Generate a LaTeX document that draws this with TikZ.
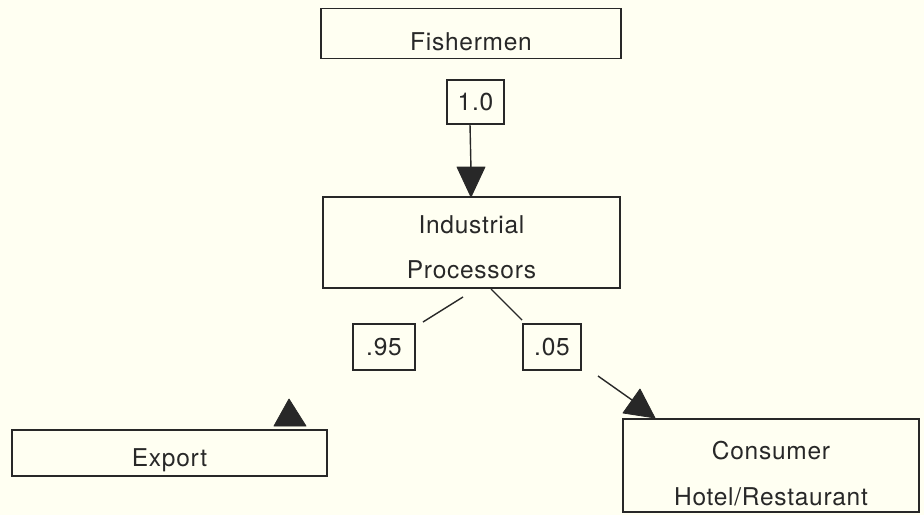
\documentclass[tikz,border=0pt]{standalone}
\usepackage{fontspec}
\setmainfont{TeX Gyre Heros}[LetterSpace=3]
\usetikzlibrary{arrows.meta}
\definecolor{paper}{RGB}{255,255,242}
\definecolor{ink}{RGB}{40,40,40}
\newcommand{\dn}[2]{\raisebox{-#1pt}[\height][\depth]{#2}}
\tikzset{
  box/.style={draw=ink, line width=1.5pt, rectangle, inner sep=0pt, text=ink,
    font=\fontsize{24.5}{45}\selectfont, align=center},
  conn/.style={draw=ink, line width=1.4pt},
  head/.style={fill=ink, draw=ink, line width=0.8pt, line join=round}
}
\begin{document}
\begin{tikzpicture}[x=1pt,y=-1pt]
\fill[paper] (0,0) rectangle (924,515);
\useasboundingbox (0,0) rectangle (924,515);

\node[box, minimum width=300pt, minimum height=50pt] (fish) at (471,33.5) {\dn{8}{Fishermen}};
\node[box, minimum width=57pt, minimum height=44pt] (p10) at (475.5,102) {1.0};
\node[box, minimum width=297pt, minimum height=91pt] (ind) at (471.5,242.5) {\dn{5}{Industrial}\\\dn{5}{Processors}};
\node[box, minimum width=62pt, minimum height=46pt] (p95) at (384,347) {.95};
\node[box, minimum width=58pt, minimum height=46pt] (p05) at (552,347) {.05};
\node[box, minimum width=315pt, minimum height=46pt] (exp) at (169.5,453) {\dn{7}{Export}};
\node[box, minimum width=296pt, minimum height=93pt] (cons) at (771,465.5) {\dn{8}{Consumer}\\\dn{9}{Hotel/Restaurant}};

% 1.0 -> Industrial
\coordinate (a1s) at (470,124);
\coordinate (a1e) at (471,170);
\draw[conn] (a1s) -- (a1e);
\coordinate (t1a) at (457,167);
\coordinate (t1b) at (485,167);
\coordinate (t1c) at (471,197);
\filldraw[head] (t1a) -- (t1b) -- (t1c) -- cycle;

% Industrial -> .95 -> Export
\coordinate (b1s) at (463,297);
\coordinate (b1e) at (423,322);
\draw[conn] (b1s) -- (b1e);
\coordinate (t2a) at (289,399);
\coordinate (t2b) at (274,426);
\coordinate (t2c) at (306,426);
\filldraw[head] (t2a) -- (t2b) -- (t2c) -- cycle;

% Industrial -> .05 -> Consumer
\coordinate (c1s) at (491,289);
\coordinate (c1e) at (522,320);
\draw[conn] (c1s) -- (c1e);
\coordinate (c2s) at (598,376);
\coordinate (c2e) at (632,400);
\draw[conn] (c2s) -- (c2e);
\coordinate (t3a) at (623,413);
\coordinate (t3b) at (640,389);
\coordinate (t3c) at (655,418);
\filldraw[head] (t3a) -- (t3b) -- (t3c) -- cycle;
\end{tikzpicture}
\end{document}
